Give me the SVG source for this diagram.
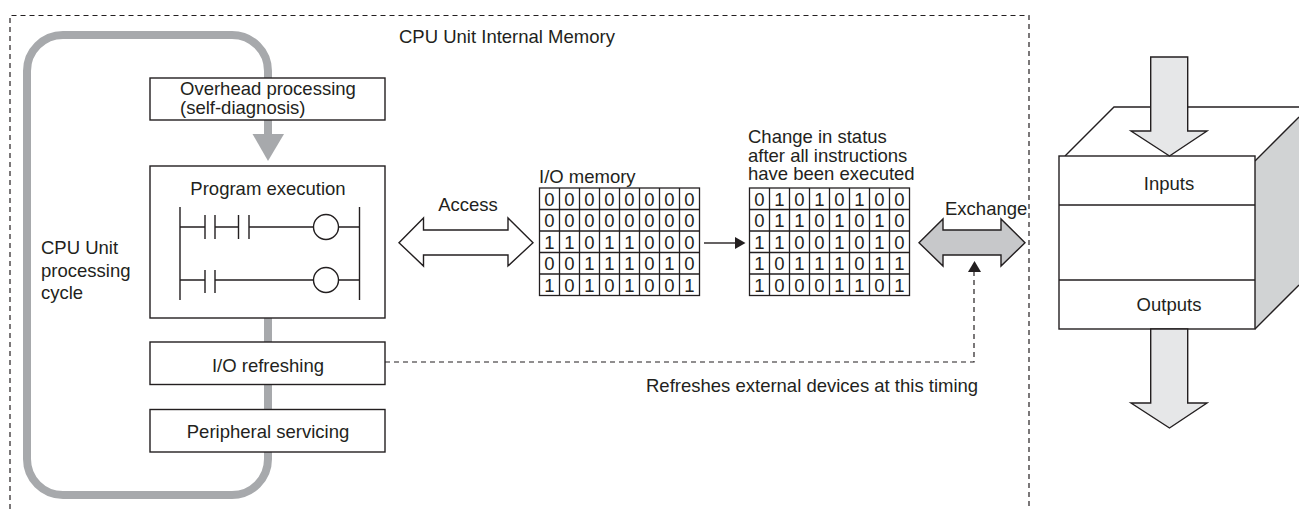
<svg xmlns="http://www.w3.org/2000/svg" width="1299" height="509" viewBox="0 0 1299 509">
<style>
text{font-family:"Liberation Sans",Arial,sans-serif;font-size:18.500px;fill:#231f20}
.m{text-anchor:middle}
.b{fill:#fff;stroke:#231f20;stroke-width:1.4}
.l{fill:none;stroke:#231f20;stroke-width:1.4}
.d{fill:none;stroke:#231f20;stroke-width:1.2;stroke-dasharray:5 4}
.g{fill:none;stroke:#231f20;stroke-width:1.3}
.c{font-size:18.500px;text-anchor:middle}
.a{fill:#e6e7e8;stroke:#231f20;stroke-width:1.4}
</style>
<defs>
<g id="grid">
<rect class="g" x="0" y="0" width="160" height="107.500"/>
<path class="g" d="M20 0V107.500M40 0V107.500M60 0V107.500M80 0V107.500M100 0V107.500M120 0V107.500M140 0V107.500M0 21.500H160M0 43H160M0 64.500H160M0 86H160"/>
</g>
</defs>
<path id="frame" class="d" d="M10 509V15.500H1029V509"/>
<g id="connectors">
<path fill="none" stroke="#a7a9ac" stroke-width="8" d="M268 78V71A36 36 0 0 0 232 35H63A36 36 0 0 0 27 71V459A36 36 0 0 0 63 495H232A36 36 0 0 0 268 459V318M268 120V136"/>
<path fill="#a7a9ac" d="M252.500 134H284L268 161Z"/>
<path class="l" d="M704 243H736"/>
<path fill="#231f20" d="M735 237L745.500 243L735 249Z"/>
<path class="d" d="M385 362H974V272"/>
<path fill="#231f20" d="M968 272L974.500 261L981 272Z"/>
</g>
<text id="memory-label" x="399" y="42.500">CPU Unit Internal Memory</text>
<g id="overhead">
<rect class="b" x="150" y="78" width="235" height="42"/>
<text x="180" y="95"><tspan x="180" y="95">Overhead processing</tspan><tspan x="180" y="113.500">(self-diagnosis)</tspan></text>
</g>
<g id="program">
<rect class="b" x="150" y="166" width="235" height="152"/>
<text class="m" x="268" y="194.500">Program execution</text>
<path class="l" d="M180 207V300M359.500 207V300M180 227H204.500M205 215V239M215 215V239M215 227H238.500M238.500 215V239M249 215V239M249 227H313.500M338.500 227H359.500M180 280H204.500M205 270V293M215 270V293M215 280H313.500M338.500 280H359.500"/>
<circle class="l" cx="326" cy="227" r="12.500"/>
<circle class="l" cx="326" cy="280" r="12.500"/>
</g>
<g id="refresh">
<rect class="b" x="150" y="342" width="235" height="42.500"/>
<text class="m" x="268" y="371.500">I/O refreshing</text>
</g>
<g id="peripheral">
<rect class="b" x="150" y="409.500" width="235" height="42.500"/>
<text class="m" x="268" y="437.500">Peripheral servicing</text>
</g>
<text id="cycle-label"><tspan x="41" y="253.500">CPU Unit</tspan><tspan x="41" y="276.500">processing</tspan><tspan x="41" y="298.500">cycle</tspan></text>
<g id="access">
<path fill="#fff" stroke="#231f20" stroke-width="1.4" d="M399 242.700L423.500 218V230H508V218L533 242.700L508 266V255H423.500V266Z"/>
<text class="m" x="468" y="210.500">Access</text>
</g>
<g id="io-memory">
<text x="539" y="182.500">I/O memory</text>
<use href="#grid" x="539.500" y="188"/>
<text class="c" y="205.500"><tspan x="549.500">0</tspan><tspan x="569.500">0</tspan><tspan x="589.500">0</tspan><tspan x="609.500">0</tspan><tspan x="629.500">0</tspan><tspan x="649.500">0</tspan><tspan x="669.500">0</tspan><tspan x="689.500">0</tspan></text>
<text class="c" y="227"><tspan x="549.500">0</tspan><tspan x="569.500">0</tspan><tspan x="589.500">0</tspan><tspan x="609.500">0</tspan><tspan x="629.500">0</tspan><tspan x="649.500">0</tspan><tspan x="669.500">0</tspan><tspan x="689.500">0</tspan></text>
<text class="c" y="248.500"><tspan x="549.500">1</tspan><tspan x="569.500">1</tspan><tspan x="589.500">0</tspan><tspan x="609.500">1</tspan><tspan x="629.500">1</tspan><tspan x="649.500">0</tspan><tspan x="669.500">0</tspan><tspan x="689.500">0</tspan></text>
<text class="c" y="270"><tspan x="549.500">0</tspan><tspan x="569.500">0</tspan><tspan x="589.500">1</tspan><tspan x="609.500">1</tspan><tspan x="629.500">1</tspan><tspan x="649.500">0</tspan><tspan x="669.500">1</tspan><tspan x="689.500">0</tspan></text>
<text class="c" y="291.500"><tspan x="549.500">1</tspan><tspan x="569.500">0</tspan><tspan x="589.500">1</tspan><tspan x="609.500">0</tspan><tspan x="629.500">1</tspan><tspan x="649.500">0</tspan><tspan x="669.500">0</tspan><tspan x="689.500">1</tspan></text>
</g>
<g id="status-memory">
<text><tspan x="748" y="143">Change in status</tspan><tspan x="748" y="161.500">after all instructions</tspan><tspan x="748" y="180">have been executed</tspan></text>
<use href="#grid" x="749.500" y="188"/>
<text class="c" y="205.500"><tspan x="759.500">0</tspan><tspan x="779.500">1</tspan><tspan x="799.500">0</tspan><tspan x="819.500">1</tspan><tspan x="839.500">0</tspan><tspan x="859.500">1</tspan><tspan x="879.500">0</tspan><tspan x="899.500">0</tspan></text>
<text class="c" y="227"><tspan x="759.500">0</tspan><tspan x="779.500">1</tspan><tspan x="799.500">1</tspan><tspan x="819.500">0</tspan><tspan x="839.500">1</tspan><tspan x="859.500">0</tspan><tspan x="879.500">1</tspan><tspan x="899.500">0</tspan></text>
<text class="c" y="248.500"><tspan x="759.500">1</tspan><tspan x="779.500">1</tspan><tspan x="799.500">0</tspan><tspan x="819.500">0</tspan><tspan x="839.500">1</tspan><tspan x="859.500">0</tspan><tspan x="879.500">1</tspan><tspan x="899.500">0</tspan></text>
<text class="c" y="270"><tspan x="759.500">1</tspan><tspan x="779.500">0</tspan><tspan x="799.500">1</tspan><tspan x="819.500">1</tspan><tspan x="839.500">1</tspan><tspan x="859.500">0</tspan><tspan x="879.500">1</tspan><tspan x="899.500">1</tspan></text>
<text class="c" y="291.500"><tspan x="759.500">1</tspan><tspan x="779.500">0</tspan><tspan x="799.500">0</tspan><tspan x="819.500">0</tspan><tspan x="839.500">1</tspan><tspan x="859.500">1</tspan><tspan x="879.500">0</tspan><tspan x="899.500">1</tspan></text>
</g>
<g id="exchange">
<path fill="#c7c8ca" stroke="#231f20" stroke-width="1.4" d="M919 242.700L943 219V230H1001V219L1025 242.700L1001 266V255H943V266Z"/>
<text x="945" y="214.500">Exchange</text>
</g>
<text id="timing-label" x="646" y="391.500">Refreshes external devices at this timing</text>
<g id="device">
<path fill="#d1d3d4" d="M1255 161L1299 117V285L1255 329Z"/>
<path class="l" d="M1065 156L1114 107H1299M1255 161L1299 117M1255 329L1299 285"/>
<rect class="b" x="1059" y="156" width="196" height="173"/>
<path class="l" d="M1059 205H1255M1059 280H1255"/>
<text class="m" x="1169" y="189.500">Inputs</text>
<text class="m" x="1169" y="310.500">Outputs</text>
</g>
<g id="io-arrows">
<path class="a" d="M1150.700 57H1187.700V131H1207L1169.500 156L1131 131H1150.700Z"/>
<path class="a" d="M1150.700 329H1187.700V403H1207L1169.500 428L1131 403H1150.700Z"/>
</g>
</svg>
